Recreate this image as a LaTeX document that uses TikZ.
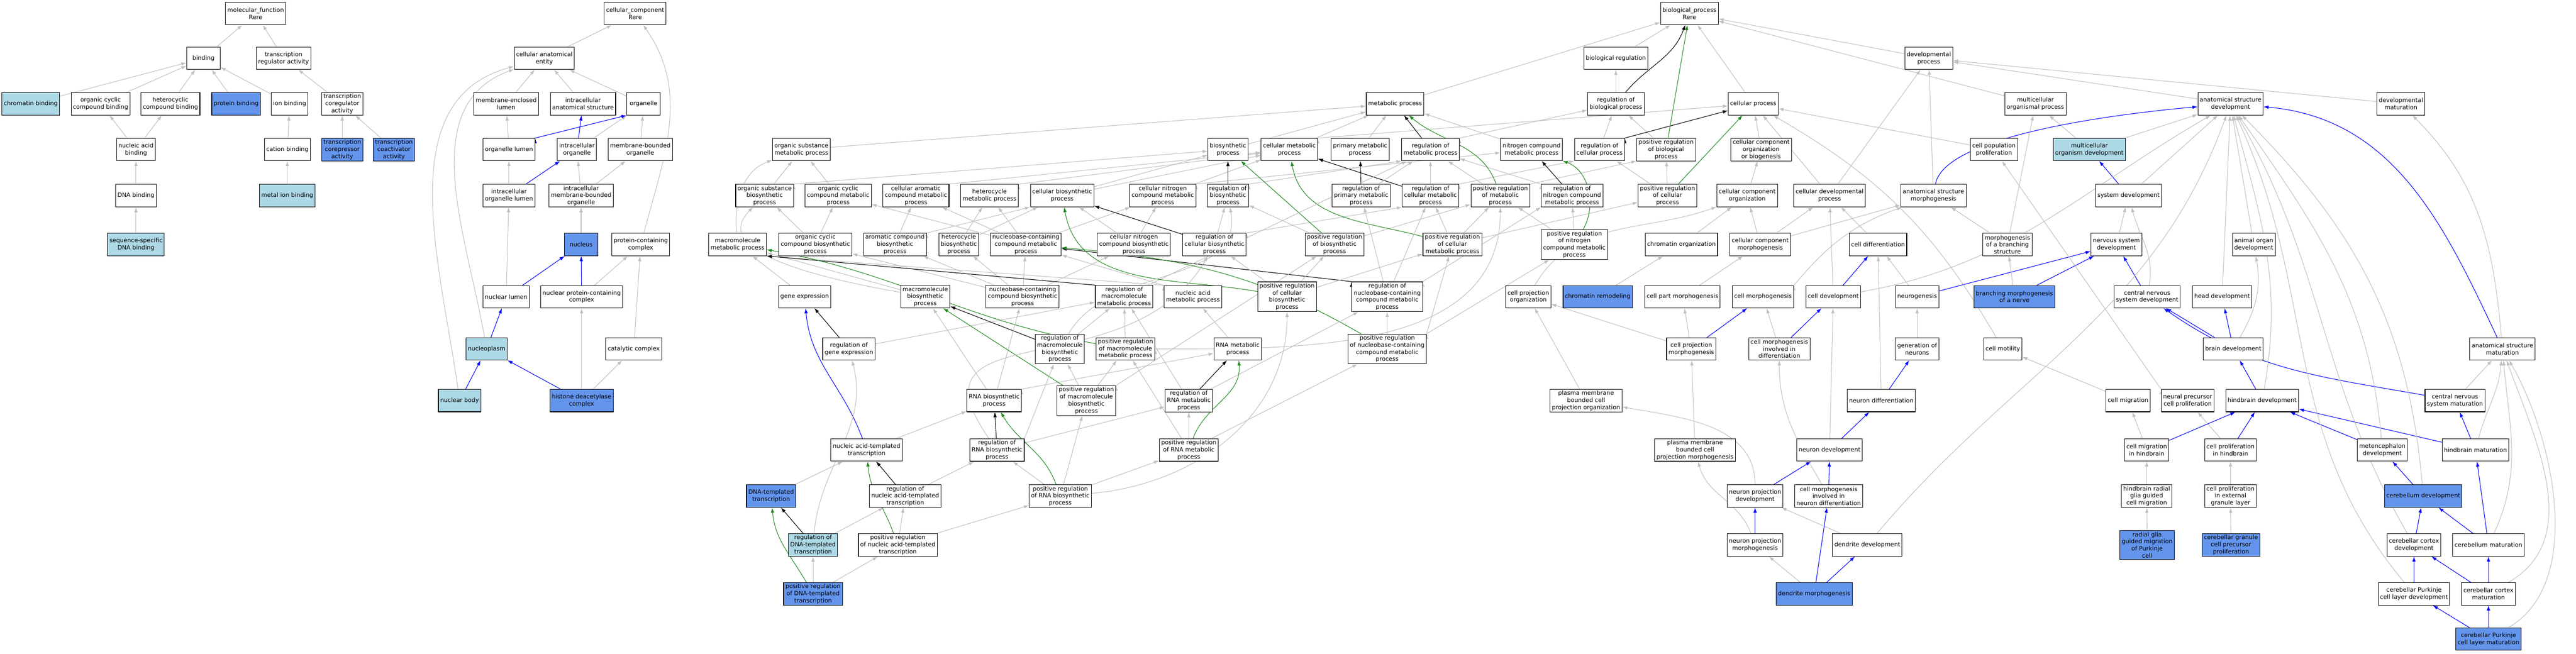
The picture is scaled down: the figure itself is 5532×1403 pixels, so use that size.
\documentclass[tikz,border=0pt]{standalone}
\usepackage{fontspec}
\setmainfont{DejaVu Sans}
\usetikzlibrary{arrows.meta,backgrounds}
\definecolor{isagray}{RGB}{192,192,192}
\definecolor{posgreen}{RGB}{34,139,34}
\definecolor{lblue}{RGB}{173,216,230}
\definecolor{cfblue}{RGB}{100,149,237}
\tikzset{
  term/.style={rectangle, draw=black, line width=1.2pt, fill=white, align=center,
    minimum width=72pt, minimum height=48pt, inner xsep=4pt, inner ysep=2.9pt,
    font=\fontsize{12.7}{15.2}\selectfont},
  lb/.style={term, fill=lblue},
  cb/.style={term, fill=cfblue},
  isa/.style={color=isagray, line width=1.2pt, -{Latex[length=11pt, width=7.5pt]}},
  reg/.style={isa, color=black},
  preg/.style={isa, color=posgreen},
  partof/.style={isa, color=blue}
}
\begin{document}
\begin{tikzpicture}[x=1pt, y=-1pt]
\useasboundingbox (0,0) rectangle (5532,1403);

% molecular function
\node[term] (mf) at (549,29) {molecular\_function\\Rere};
\node[term] (bind) at (437,125) {binding};
\node[term] (tra) at (609,125) {transcription\\regulator activity};
\node[lb] (chb) at (66,223) {chromatin binding};
\node[term] (occb) at (216,223) {organic cyclic\\compound binding};
\node[term] (hcb) at (366,223) {heterocyclic\\compound binding};
\node[cb] (prb) at (507,223) {protein binding};
\node[term] (ionb) at (622,223) {ion binding};
\node[term] (tcra) at (735,223) {transcription\\coregulator\\activity};
\node[term] (nab) at (292,321) {nucleic acid\\binding};
\node[term] (catb) at (617,321) {cation binding};
\node[cb] (tcorep) at (735,321) {transcription\\corepressor\\activity};
\node[cb] (tcoact) at (846,321) {transcription\\coactivator\\activity};
\node[term] (dnab) at (292,420) {DNA binding};
\node[lb] (mib) at (617,420) {metal ion binding};
\node[lb] (ssdb) at (292,525) {sequence-specific\\DNA binding};

% cellular component
\node[term] (cc) at (1364,29) {cellular\_component\\Rere};
\node[term] (cae) at (1169,125) {cellular anatomical\\entity};
\node[term] (mel) at (1087,223) {membrane-enclosed\\lumen};
\node[term] (ias) at (1252,223) {intracellular\\anatomical structure};
\node[term] (org) at (1382,223) {organelle};
\node[term] (orgl) at (1093,321) {organelle lumen};
\node[term] (io) at (1239,321) {intracellular\\organelle};
\node[term] (mbo) at (1375,321) {membrane-bounded\\organelle};
\node[term] (iol) at (1093,420) {intracellular\\organelle lumen};
\node[term] (imbo) at (1248,420) {intracellular\\membrane-bounded\\organelle};
\node[cb] (nuc) at (1248,525) {nucleus};
\node[term] (pcc) at (1376,525) {protein-containing\\complex};
\node[term] (nl) at (1087,637) {nuclear lumen};
\node[term] (npcc) at (1249,637) {nuclear protein-containing\\complex};
\node[lb] (npl) at (1045,749) {nucleoplasm};
\node[term] (catc) at (1361,749) {catalytic complex};
\node[lb] (nb) at (987,860) {nuclear body};
\node[cb] (hdac) at (1249,860) {histone deacetylase\\complex};

% biological process
\node[term] (bp) at (3628,29) {biological\_process\\Rere};
\node[term] (breg) at (3470,125) {biological regulation};
\node[term] (devp) at (4142,125) {developmental\\process};
\node[term] (mp) at (2996,223) {metabolic process};
\node[term] (rbp) at (3470,223) {regulation of\\biological process};
\node[term] (cp) at (3765,223) {cellular process};
\node[term] (mop) at (4371,223) {multicellular\\organismal process};
\node[term] (asd) at (4790,223) {anatomical structure\\development};
\node[term] (dmat) at (5156,223) {developmental\\maturation};

\node[term] (osmp) at (1721,321) {organic substance\\metabolic process};
\node[term] (bsp) at (2637,321) {biosynthetic\\process};
\node[term] (cmp) at (2769,321) {cellular metabolic\\process};
\node[term] (pmp) at (2921,321) {primary metabolic\\process};
\node[term] (rmp) at (3072,321) {regulation of\\metabolic process};
\node[term] (ncmp) at (3289,321) {nitrogen compound\\metabolic process};
\node[term] (rcp) at (3435,321) {regulation of\\cellular process};
\node[term] (prbp) at (3578,321) {positive regulation\\of biological\\process};
\node[term] (ccob) at (3782,321) {cellular component\\organization\\or biogenesis};
\node[term] (cpp) at (4282,321) {cell population\\proliferation};
\node[lb] (mod) at (4487,321) {multicellular\\organism development};

\node[term] (osbp) at (1642,420) {organic substance\\biosynthetic\\process};
\node[term] (occmp) at (1800,420) {organic cyclic\\compound metabolic\\process};
\node[term] (cacmp) at (1967,420) {cellular aromatic\\compound metabolic\\process};
\node[term] (hmp) at (2125,420) {heterocycle\\metabolic process};
\node[term] (cbp) at (2281,420) {cellular biosynthetic\\process};
\node[term] (cncmp) at (2497,420) {cellular nitrogen\\compound metabolic\\process};
\node[term] (rbsp) at (2637,420) {regulation of\\biosynthetic\\process};
\node[term] (rpmp) at (2923,420) {regulation of\\primary metabolic\\process};
\node[term] (rcmp) at (3072,420) {regulation of\\cellular metabolic\\process};
\node[term] (prmp) at (3222,420) {positive regulation\\of metabolic\\process};
\node[term] (rncmp) at (3376,420) {regulation of\\nitrogen compound\\metabolic process};
\node[term] (prcp) at (3581,420) {positive regulation\\of cellular\\process};
\node[term] (cco) at (3752,420) {cellular component\\organization};
\node[term] (cdp) at (3929,420) {cellular developmental\\process};
\node[term] (asm) at (4152,420) {anatomical structure\\morphogenesis};
\node[term] (sd) at (4571,420) {system development};

\node[term] (mmp) at (1584,525) {macromolecule\\metabolic process};
\node[term] (occbp) at (1751,525) {organic cyclic\\compound biosynthetic\\process};
\node[term] (acbp) at (1922,525) {aromatic compound\\biosynthetic\\process};
\node[term] (hbp) at (2059,525) {heterocycle\\biosynthetic\\process};
\node[term] (nccmp) at (2203,525) {nucleobase-containing\\compound metabolic\\process};
\node[term] (cncbp) at (2435,525) {cellular nitrogen\\compound biosynthetic\\process};
\node[term] (rcbp) at (2608,525) {regulation of\\cellular biosynthetic\\process};
\node[term] (prbsp) at (2866,525) {positive regulation\\of biosynthetic\\process};
\node[term] (prcmp) at (3119,525) {positive regulation\\of cellular\\metabolic process};
\node[term] (prncmp) at (3381,525) {positive regulation\\of nitrogen\\compound metabolic\\process};
\node[term] (cho) at (3611,525) {chromatin organization};
\node[term] (ccm) at (3780,525) {cellular component\\morphogenesis};
\node[term] (cd) at (4033,525) {cell differentiation};
\node[term] (mbs) at (4311,525) {morphogenesis\\of a branching\\structure};
\node[term] (nsd) at (4545,525) {nervous system\\development};
\node[term] (aod) at (4840,525) {animal organ\\development};

\node[term] (ge) at (1728,637) {gene expression};
\node[term] (mbp) at (1987,637) {macromolecule\\biosynthetic\\process};
\node[term] (nccbp) at (2196,637) {nucleobase-containing\\compound biosynthetic\\process};
\node[term] (rmmp) at (2414,637) {regulation of\\macromolecule\\metabolic process};
\node[term] (namp) at (2562,637) {nucleic acid\\metabolic process};
\node[term] (prcbp) at (2764,637) {positive regulation\\of cellular\\biosynthetic\\process};
\node[term] (rnccmp) at (2979,637) {regulation of\\nucleobase-containing\\compound metabolic\\process};
\node[term] (cpo) at (3282,637) {cell projection\\organization};
\node[cb] (chr) at (3431,637) {chromatin remodeling};
\node[term] (cpm) at (3613,637) {cell part morphogenesis};
\node[term] (cm) at (3786,637) {cell morphogenesis};
\node[term] (cdev) at (3937,637) {cell development};
\node[term] (ng) at (4117,637) {neurogenesis};
\node[cb] (bmn) at (4326,637) {branching morphogenesis\\of a nerve};
\node[term] (cnsd) at (4611,637) {central nervous\\system development};
\node[term] (hd) at (4772,637) {head development};

\node[term] (rge) at (1823,749) {regulation of\\gene expression};
\node[term] (rmbp) at (2276,749) {regulation of\\macromolecule\\biosynthetic\\process};
\node[term] (prmmp) at (2417,749) {positive regulation\\of macromolecule\\metabolic process};
\node[term] (rnamp) at (2658,749) {RNA metabolic\\process};
\node[term] (prnccmp) at (2979,749) {positive regulation\\of nucleobase-containing\\compound metabolic\\process};
\node[term] (cpmo) at (3632,749) {cell projection\\morphogenesis};
\node[term] (cmid) at (3821,749) {cell morphogenesis\\involved in\\differentiation};
\node[term] (gn) at (4117,749) {generation of\\neurons};
\node[term] (cmot) at (4301,749) {cell motility};
\node[term] (bd) at (4796,749) {brain development};
\node[term] (asmat) at (5374,749) {anatomical structure\\maturation};

\node[term] (rnabp) at (2135,860) {RNA biosynthetic\\process};
\node[term] (prmbp) at (2333,860) {positive regulation\\of macromolecule\\biosynthetic\\process};
\node[term] (rrnamp) at (2553,860) {regulation of\\RNA metabolic\\process};
\node[term] (pmbcpo) at (3406,860) {plasma membrane\\bounded cell\\projection organization};
\node[term] (nd) at (4040,860) {neuron differentiation};
\node[term] (cmig) at (4570,860) {cell migration};
\node[term] (npcp) at (4698,860) {neural precursor\\cell proliferation};
\node[term] (hbd) at (4858,860) {hindbrain development};
\node[term] (cnsm) at (5272,860) {central nervous\\system maturation};

\node[term] (nat) at (1861,966) {nucleic acid-templated\\transcription};
\node[term] (rrnabp) at (2141,966) {regulation of\\RNA biosynthetic\\process};
\node[term] (prrnamp) at (2553,966) {positive regulation\\of RNA metabolic\\process};
\node[term] (pmbcpm) at (3640,966) {plasma membrane\\bounded cell\\projection morphogenesis};
\node[term] (ndev) at (3929,966) {neuron development};
\node[term] (cmh) at (4610,966) {cell migration\\in hindbrain};
\node[term] (cph) at (4790,966) {cell proliferation\\in hindbrain};
\node[term] (md) at (5116,966) {metencephalon\\development};
\node[term] (hbm) at (5316,966) {hindbrain maturation};

\node[cb] (dt) at (1656,1065) {DNA-templated\\transcription};
\node[term] (rnat) at (1944,1065) {regulation of\\nucleic acid-templated\\transcription};
\node[term] (prrnabp) at (2277,1065) {positive regulation\\of RNA biosynthetic\\process};
\node[term] (npd) at (3769,1065) {neuron projection\\development};
\node[term] (cmind) at (3927,1065) {cell morphogenesis\\involved in\\neuron differentiation};
\node[term] (hrgg) at (4610,1065) {hindbrain radial\\glia guided\\cell migration};
\node[term] (cpegl) at (4790,1065) {cell proliferation\\in external\\granule layer};
\node[cb] (cbd) at (5204,1065) {cerebellum development};

\node[lb] (rdt) at (1746,1170) {regulation of\\DNA-templated\\transcription};
\node[term] (prnat) at (1928,1170) {positive regulation\\of nucleic acid-templated\\transcription};
\node[term] (npm) at (3769,1170) {neuron projection\\morphogenesis};
\node[term] (dd) at (4010,1170) {dendrite development};
\node[cb] (rggm) at (4611,1170) {radial glia\\guided migration\\of Purkinje\\cell};
\node[cb] (cgcpp) at (4791,1170) {cerebellar granule\\cell precursor\\proliferation};
\node[term] (ccd) at (5184,1170) {cerebellar cortex\\development};
\node[term] (cbm) at (5344,1170) {cerebellum maturation};

\node[cb] (prdt) at (1746,1275) {positive regulation\\of DNA-templated\\transcription};
\node[cb] (dm) at (3896,1275) {dendrite morphogenesis};
\node[term] (cpcld) at (5184,1275) {cerebellar Purkinje\\cell layer development};
\node[term] (ccmat) at (5344,1275) {cerebellar cortex\\maturation};

\node[cb] (cpclm) at (5344,1372) {cerebellar Purkinje\\cell layer maturation};

\begin{pgfonlayer}{background}
\fill[white] (0,0) rectangle (5532,1403);

% molecular function links
\draw[isa] (bind) edge (mf) (tra) edge (mf);
\draw[isa] (chb) edge (bind) (occb) edge (bind) (hcb) edge (bind) (prb) edge (bind) (ionb) edge (bind);
\draw[isa] (tcra) edge (tra) (tcorep) edge (tcra) (tcoact) edge (tcra);
\draw[isa] (nab) edge (occb) edge (hcb) (catb) edge (ionb);
\draw[isa] (dnab) edge (nab) (ssdb) edge (dnab) (mib) edge (catb);

% cellular component links
\draw[isa] (cae) edge (cc) (pcc) edge[out=75, in=-55] (cc);
\draw[isa] (mel) edge (cae) (ias) edge (cae) (org) edge (cae);
\draw[isa] (orgl) edge (mel) (io) edge (org) (mbo) edge (org);
\draw[partof] (orgl.north east) edge (org.south west) (io) edge (ias) (iol) edge (io);
\draw[isa] (iol) edge (orgl) (imbo) edge (io) edge (mbo) (nuc) edge (imbo);
\draw[isa] (nl) edge (iol) (npcc) edge (pcc) (catc) edge (pcc);
\draw[partof] (nl) edge (nuc) (npcc) edge (nuc) (npl) edge (nl);
\draw[isa] (npl) edge[out=100, in=-160] (cae) (nb) edge[out=98, in=-165] (cae);
\draw[partof] (nb) edge (npl) (hdac) edge (npl);
\draw[isa] (hdac) edge (npcc) edge (catc);

% upper process links
\draw[isa] (breg) edge (bp) (mp) edge (bp) (cp) edge (bp) (devp) edge (bp) (mop) edge (bp);
\draw[isa] (rbp) edge (breg);
\draw[reg] (rbp) edge[out=50, in=-110] (bp);
\draw[preg] (prbp) edge (bp);
\draw[isa] (prbp) edge (rbp) (rcp) edge (rbp) (rmp.north east) edge (rbp);
\draw[reg] (rcp.north east) edge (cp);
\draw[isa] (cmp.north east) edge (cp) (ccob) edge (cp) (cdp) edge (cp) (cpp) edge (cp);
\draw[isa] (osmp) edge (mp) (bsp) edge (mp) (cmp) edge (mp) (pmp) edge (mp) (ncmp) edge (mp);
\draw[reg] (rmp) edge (mp);
\draw[isa] (osbp) edge (osmp) (osbp.north east) edge (bsp) (occmp) edge (osmp);
\draw[isa] (cacmp.north east) edge (cmp) (hmp.north east) edge (cmp) (cbp) edge (bsp) edge (cmp);
\draw[isa] (cncmp.north east) edge (ncmp) (cncmp) edge (cmp);
\draw[reg] (rbsp) edge (bsp) (rpmp) edge (pmp) (rcmp) edge (cmp);
\draw[isa] (rbsp.north east) edge (rmp.south west) (rpmp) edge (rmp) (rcmp) edge (rmp);
\draw[isa] (rcmp.north east) edge (rcp.south west);
\draw[isa] (prmp) edge (rmp) (prmp.north east) edge (prbp.south west) (rncmp.north west) edge (rmp);
\draw[preg] (prmp) edge[out=110, in=-40] (mp);
\draw[reg] (rncmp) edge (ncmp);
\draw[isa] (prcp) edge (rcp) edge (prbp) (cco) edge (ccob);
\draw[preg] (prcp) edge (cp);

% development links
\draw[isa] (cdp) edge (devp) (asm) edge (devp) (sd) edge (asd) (mod) edge (mop) edge (asd);
\draw[partof] (asm) edge[out=80, in=185, looseness=0.5] (asd) (sd) edge (mod);
\draw[isa] (asd) edge (devp) (dmat) edge (devp);
\draw[isa] (nsd) edge (sd) (cnsd) edge[out=80, in=-75] (sd);
\draw[partof] (cnsd) edge (nsd) (bmn) edge (nsd) (ng) edge (nsd);
\draw[isa] (bmn) edge (mbs) (mbs) edge (asm) edge (mop);
\draw[isa] (ng) edge (cd) (cd) edge (cdp) (cdev) edge (cdp);
\draw[partof] (cdev) edge (cd);
\draw[isa] (cdev) edge[out=10, in=-150] (asd);
\draw[isa] (ccm) edge (cco) edge (cdp) edge (asm) (cpm) edge (ccm);
\draw[isa] (cm.north east) edge[out=50, in=200] (asm);
\draw[isa] (cho) edge (cco) (chr) edge (cho);
\draw[isa] (cpo) edge[out=60, in=200] (cco);

% metabolic links
\draw[isa] (mmp) edge[out=95, in=-160] (osmp);
\draw[isa] (occbp) edge (occmp) edge (osbp) (acbp) edge (cacmp) (acbp.north east) edge (cbp.south west);
\draw[isa] (hbp) edge (hmp) edge (cbp);
\draw[isa] (nccmp) edge (cacmp) edge (hmp) edge (occmp) edge (cncmp);
\draw[isa] (cncbp) edge (cncmp) edge (cbp) (rcbp) edge (rbsp);
\draw[isa] (rcbp.north east) edge (rcmp.south west);
\draw[reg] (rcbp) edge (cbp);
\draw[preg] (prbsp) edge (bsp);
\draw[isa] (prbsp) edge (rbsp) edge (prmp);
\draw[isa] (prcmp) edge (prmp) edge (rcmp) edge (prcp);
\draw[preg] (prcmp) edge[out=165, in=-80] (cmp);
\draw[isa] (prncmp) edge (rncmp) edge (prmp);
\draw[preg] (prncmp) edge[out=60, in=-20] (ncmp);
\draw[isa] (ge) edge (mmp) (mbp) edge (mmp) (namp.north west) edge (mmp.south east) (namp.north west) edge (nccmp);
\draw[isa] (mbp) edge[out=170, in=-135] (osbp);
\draw[isa] (nccbp) edge (nccmp) edge (hbp) edge (acbp) edge (occbp) edge (cncbp);
\draw[reg] (rmmp.north west) edge (mmp.south east) (rnccmp.north west) edge (nccmp);
\draw[isa] (rmmp) edge (rmp);
\draw[isa] (prcbp) edge (rcbp) edge (prbsp) edge (prcmp);
\draw[preg] (prcbp) edge[out=170, in=-80] (cbp);
\draw[isa] (rnccmp) edge (rpmp) edge (rcmp) (rnccmp.north east) edge (rncmp.south west);
\draw[reg] (rge) edge (ge);
\draw[isa] (rge) edge (rmmp);
\draw[reg] (rmbp) edge (mbp);
\draw[isa] (rmbp) edge (rmmp) edge[out=60, in=-80] (rbsp);
\draw[preg] (prmmp) edge[out=170, in=-10] (mmp);
\draw[isa] (prmmp) edge (rmmp) (prmmp.east) edge[out=0, in=-90] (prmp);
\draw[isa] (rnamp) edge (namp);
\draw[isa] (prnccmp) edge (rnccmp) (prnccmp.north east) edge (prcmp) (prnccmp.north east) edge (prncmp);
\draw[preg] (prnccmp) edge[out=150, in=-5] (nccmp);

% transcription links
\draw[isa] (rnabp) edge (mbp) edge (nccbp) (rnabp.north east) edge (rnamp);
\draw[isa] (prmbp) edge (rmbp) edge (prmmp) (prmbp.north east) edge (prbsp);
\draw[preg] (prmbp) edge (mbp);
\draw[reg] (rrnamp) edge (rnamp);
\draw[isa] (rrnamp) edge (rnccmp) edge (rmmp);
\draw[partof] (nat) edge[out=110, in=-85] (ge);
\draw[isa] (nat) edge (rnabp);
\draw[reg] (rrnabp) edge (rnabp);
\draw[isa] (rrnabp) edge (rrnamp) (rrnabp.north east) edge (rmbp);
\draw[isa] (rrnabp) edge[out=125, in=-120, looseness=1.4] (rcbp);
\draw[isa] (prrnamp) edge (rrnamp) edge (prnccmp) edge (prmmp);
\draw[preg] (prrnamp) edge[out=70, in=-85] (rnamp);
\draw[isa] (dt) edge (nat);
\draw[reg] (rnat) edge (nat);
\draw[isa] (rnat) edge (rrnabp);
\draw[isa] (prrnabp) edge (rrnabp) edge (prrnamp) edge (prmbp) edge[out=5, in=-90] (prcbp);
\draw[preg] (prrnabp) edge[out=110, in=-60] (rnabp);
\draw[reg] (rdt) edge (dt);
\draw[isa] (rdt) edge (rnat) edge[out=85, in=-75] (rge);
\draw[preg] (prnat) edge[out=110, in=-85] (nat);
\draw[isa] (prnat) edge (rnat) edge (prrnabp);
\draw[preg] (prdt) edge[out=120, in=-85] (dt);
\draw[isa] (prdt) edge (rdt) edge (prnat);

% neuron and brain links
\draw[isa] (cpmo) edge (cpm) edge (cpo) (cmid) edge (cm);
\draw[partof] (cpmo) edge (cm) (cmid) edge (cdev);
\draw[isa] (gn) edge (ng) (cmig) edge (cmot) (npcp.north west) edge (cpp);
\draw[isa] (cmot) edge[out=120, in=-30] (cp);
\draw[partof] (bd) edge (cnsd) edge (hd) (hbd) edge (bd);
\draw[isa] (bd) edge[out=60, in=-80] (aod) (hd) edge (asd) (aod) edge (asd);
\draw[partof] (asmat) edge[out=115, in=-5] (asd);
\draw[isa] (asmat) edge[out=95, in=-45] (dmat);
\draw[isa] (pmbcpo) edge (cpo) (pmbcpm) edge (cpmo);
\draw[partof] (nd) edge (gn) (ndev) edge (nd);
\draw[isa] (nd) edge (cd) (ndev) edge (cdev);
\draw[isa] (hbd) edge[out=80, in=-75] (asd);
\draw[isa] (cnsm) edge (asmat);
\draw[partof] (cnsm) edge[out=170, in=-35] (cnsd);
\draw[isa] (cmh) edge (cmig) (cph) edge (npcp);
\draw[partof] (cmh) edge (hbd) (cph) edge (hbd) (md) edge (hbd) (hbm) edge (hbd) (hbm) edge (cnsm);
\draw[isa] (md) edge[out=95, in=-55] (asd) (hbm) edge[out=75, in=-95] (asmat);
\draw[isa] (npd) edge[out=90, in=-10] (pmbcpo);
\draw[partof] (npd) edge (ndev) (cmind) edge (ndev) (npm) edge (npd);
\draw[isa] (cmind) edge[out=120, in=-90] (cmid);
\draw[isa] (hrgg) edge (cmh) (cpegl) edge (cph);
\draw[partof] (cbd) edge (md) (ccd) edge (cbd) (cbm) edge (cbd) (cbm) edge (hbm);
\draw[isa] (cbd) edge[out=95, in=-45] (asd);
\draw[isa] (npm) edge[out=110, in=-75] (pmbcpm);
\draw[isa] (dd) edge (npd) edge[out=50, in=-110] (asd);
\draw[isa] (rggm) edge (hrgg) (cgcpp) edge (cpegl);
\draw[isa] (ccd) edge[out=120, in=-60] (asd) (cbm) edge[out=65, in=-85] (asmat);
\draw[partof] (dm) edge (cmind) edge (dd);
\draw[isa] (dm) edge (npm);
\draw[partof] (cpcld) edge (ccd) (ccmat) edge (ccd) edge (cbm) (cpclm) edge (cpcld) edge (ccmat);
\draw[isa] (cpcld) edge[out=130, in=-65] (asd) (ccmat) edge[out=30, in=-70] (asmat);
\draw[isa] (cpclm) edge[out=30, in=-60, looseness=0.85] (asmat);
\end{pgfonlayer}
\end{tikzpicture}
\end{document}
